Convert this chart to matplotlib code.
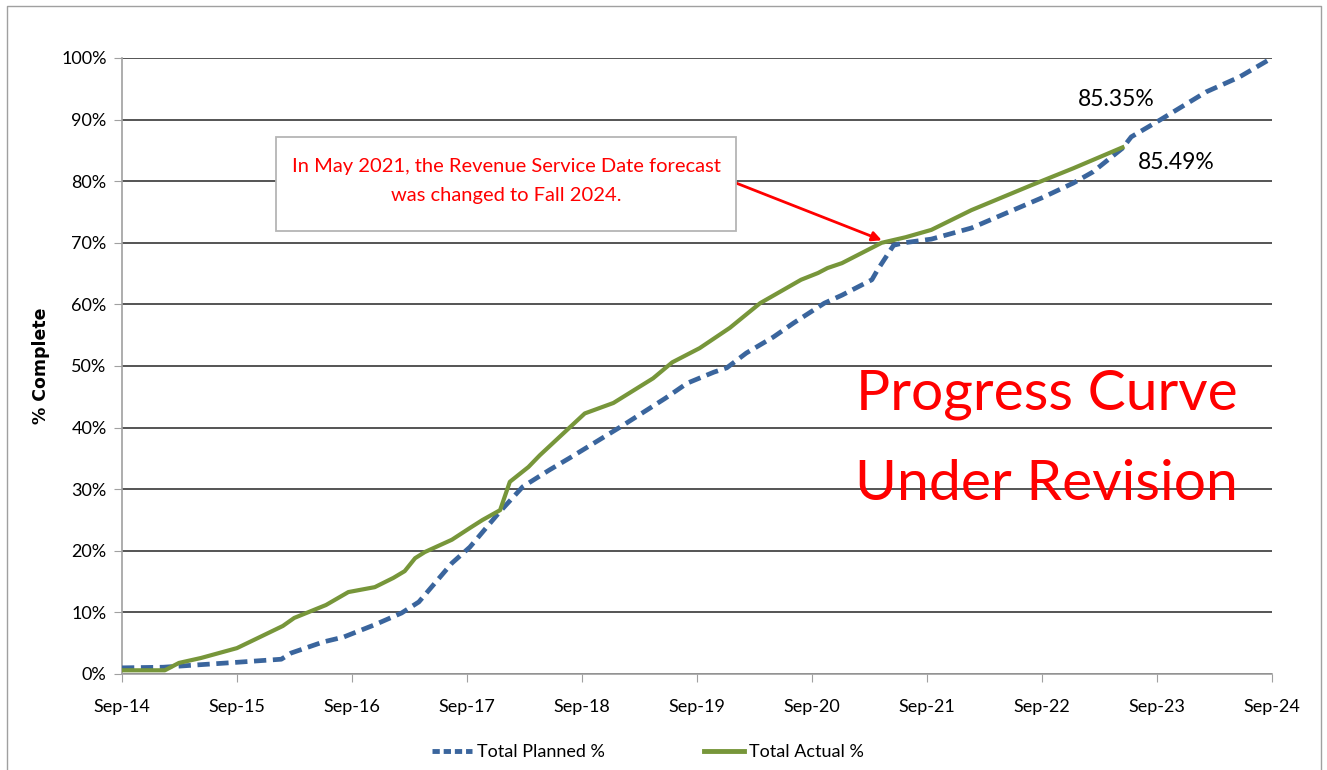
import matplotlib.pyplot as plt
import matplotlib.dates as mdates
import pandas as pd
from matplotlib.lines import Line2D
from matplotlib.patches import Rectangle

# planned progress curve (% complete)
planned_dates = ['2014-09-01', '2015-01-10', '2015-05-05', '2015-09-01', '2016-01-20',
                 '2016-02-20', '2016-06-01', '2016-08-05', '2016-11-12', '2017-02-05',
                 '2017-04-01', '2017-07-15', '2017-09-10', '2017-12-10', '2018-02-25',
                 '2018-05-20', '2018-07-25', '2019-01-01', '2019-05-25', '2019-08-01',
                 '2019-10-25', '2019-12-05', '2020-02-05', '2020-05-01', '2020-07-05',
                 '2020-10-10', '2020-12-05', '2021-03-10', '2021-03-28', '2021-05-18',
                 '2021-06-20', '2021-09-15', '2022-01-20', '2022-09-01', '2022-12-10',
                 '2023-02-10', '2023-05-15', '2023-06-12', '2023-09-10', '2024-02-05',
                 '2024-05-20', '2024-09-01']
planned_pct = [1.0, 1.1, 1.5, 1.9, 2.4, 3.4, 5.2, 6.0, 8.0, 9.9,
               11.7, 18.0, 20.6, 26.1, 30.4, 33.1, 35.1, 40.1, 44.8, 47.2,
               49.0, 49.7, 52.1, 54.7, 57.0, 60.2, 61.5, 64.0, 65.6, 69.6,
               70.0, 70.6, 72.4, 77.3, 79.7, 81.5, 85.35, 87.2, 89.9, 94.5,
               96.9, 100.0]

# actual progress curve (% complete)
actual_dates = ['2014-09-01', '2015-01-15', '2015-03-01', '2015-05-10', '2015-09-01',
                '2015-11-05', '2016-01-25', '2016-03-01', '2016-06-10', '2016-08-20',
                '2016-11-12', '2017-01-10', '2017-02-15', '2017-03-20', '2017-04-20',
                '2017-07-15', '2017-09-10', '2017-10-20', '2017-12-15', '2018-01-15',
                '2018-03-15', '2018-04-20', '2018-09-10', '2018-12-10', '2019-04-15',
                '2019-06-15', '2019-09-10', '2019-12-15', '2020-03-20', '2020-07-28',
                '2020-09-20', '2020-10-20', '2020-12-05', '2021-04-10', '2021-06-25',
                '2021-09-15', '2022-01-20', '2022-08-01', '2022-12-10', '2023-05-15']
actual_pct = [0.6, 0.6, 1.8, 2.6, 4.2, 5.8, 7.8, 9.1, 11.2, 13.3,
              14.1, 15.6, 16.7, 18.8, 19.8, 21.8, 23.7, 25.0, 26.6, 31.2,
              33.6, 35.5, 42.3, 44.0, 48.0, 50.6, 52.9, 56.2, 60.2, 64.0,
              65.1, 65.9, 66.7, 70.0, 70.9, 72.1, 75.3, 79.4, 82.1, 85.49]

tick_years = list(range(2014, 2025))
y_ticks = list(range(0, 101, 10))

blue = '#3A659D'
green = '#77963A'
font = ['Lato', 'DejaVu Sans']
W, H = 1327, 770

fig = plt.figure(figsize=(W / 100, H / 100), dpi=100)
ax = fig.add_axes([122 / W, 1 - 674 / H, (1272 - 122) / W, (674 - 58) / H])

px = pd.to_datetime(planned_dates)
axd = pd.to_datetime(actual_dates)

ax.plot(px, planned_pct, color=blue, lw=3.4, ls=(0, (2.6, 1.4)), zorder=3)
ax.plot(axd, actual_pct, color=green, lw=3.0, zorder=4, solid_joinstyle='round')

ax.set_xlim(pd.Timestamp('2014-09-01'), pd.Timestamp('2024-09-01'))
ax.set_ylim(0, 100)
ax.set_xticks(pd.to_datetime([f'{y}-09-01' for y in tick_years]))
ax.xaxis.set_major_formatter(mdates.DateFormatter('%b-%y'))
ax.set_yticks(y_ticks)
ax.set_yticklabels([f'{v}%' for v in y_ticks])

ax.grid(axis='y', color='#474747', lw=1.3, zorder=1)
ax.set_axisbelow(True)
for s in ['top', 'right']:
    ax.spines[s].set_visible(False)
for s in ['left', 'bottom']:
    ax.spines[s].set_color('#a0a0a0')
    ax.spines[s].set_linewidth(1.2)
ax.tick_params(axis='x', direction='out', length=6, color='#a0a0a0', pad=12)
ax.tick_params(axis='y', direction='out', length=6, color='#a0a0a0', pad=5)
for lab in ax.get_xticklabels() + ax.get_yticklabels():
    lab.set_family(font)
    lab.set_fontsize(13)

ax.set_ylabel('% Complete', family='DejaVu Sans', fontweight='bold', fontsize=12.5)
ax.yaxis.set_label_coords(-(122 - 50) / 1150, 0.5)

# end-point labels
ax.annotate('85.35%', (px[36], planned_pct[36]), xytext=(-32, 35), textcoords='offset points',
            ha='left', va='center', fontsize=16.5, family=font)
ax.annotate('85.49%', (axd[-1], actual_pct[-1]), xytext=(11, -11), textcoords='offset points',
            ha='left', va='center', fontsize=16.5, family=font)

# callout box with arrow to the May 2021 forecast change
fig.add_artist(Rectangle((276 / W, 1 - 231 / H), (736 - 276) / W, (231 - 137) / H,
                         transform=fig.transFigure, fc='white', ec='#b5b5b5', lw=1.3,
                         zorder=6))
fig.text(506 / W, 1 - 181 / H, 'In May 2021, the Revenue Service Date forecast\nwas changed to Fall 2024.',
         ha='center', va='center', color='red', fontsize=14.5, family=font,
         linespacing=1.9, zorder=7)
ax.annotate('', xy=(pd.Timestamp('2021-05-01'), 70.0), xytext=(736 / W, 1 - 183 / H),
            textcoords='figure fraction',
            arrowprops=dict(arrowstyle='-|>', color='red', lw=2, mutation_scale=14,
                            shrinkA=0, shrinkB=5),
            zorder=6)

ax.text(0.804, 0.381, 'Progress Curve\nUnder Revision', transform=ax.transAxes,
        ha='center', va='center', color='red', fontsize=41, family=font,
        linespacing=1.95, zorder=5)

handles = [Line2D([], [], color=blue, lw=3.5, ls=(0, (1.5, 0.8))),
           Line2D([], [], color=green, lw=3.5)]
fig.legend(handles, ['Total Planned %', 'Total Actual %'], loc='center',
           bbox_to_anchor=(648 / W, 1 - 752 / H), ncol=2, frameon=False,
           prop={'family': font, 'size': 13}, handlelength=2.2, columnspacing=5.5,
           handletextpad=0.3)

# outer chart frame
fig.add_artist(Line2D([7 / W, 7 / W, 1321 / W, 1321 / W],
                      [0, 1 - 6 / H, 1 - 6 / H, 0], transform=fig.transFigure,
                      color='#a0a0a0', lw=1))

fig.savefig('out.png', dpi=100)
